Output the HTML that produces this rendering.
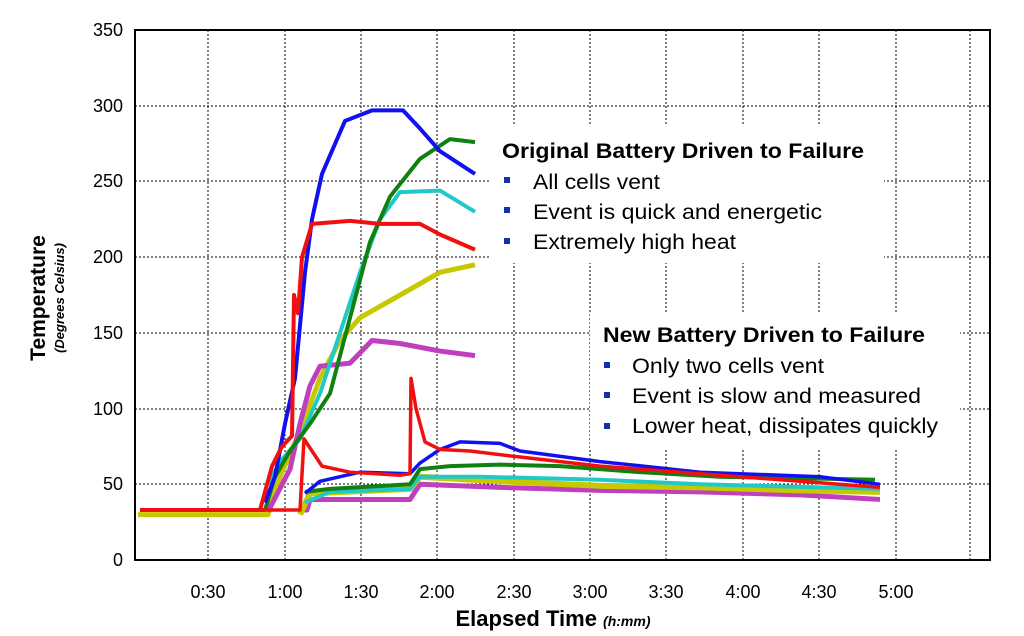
<!DOCTYPE html>
<html><head><meta charset="utf-8"><style>
html,body{margin:0;padding:0;background:#fff;}
svg{display:block;font-family:"Liberation Sans",Arial,sans-serif;}
</style></head><body>
<svg width="1024" height="636" viewBox="0 0 1024 636" xmlns="http://www.w3.org/2000/svg">
<rect width="1024" height="636" fill="#fff"/>
<g stroke="#000" stroke-width="1" stroke-dasharray="2,2">
<line x1="135" x2="990" y1="106" y2="106"/>
<line x1="135" x2="990" y1="181" y2="181"/>
<line x1="135" x2="990" y1="257" y2="257"/>
<line x1="135" x2="990" y1="333" y2="333"/>
<line x1="135" x2="990" y1="409" y2="409"/>
<line x1="135" x2="990" y1="484" y2="484"/>
<line x1="208" x2="208" y1="30" y2="560"/>
<line x1="285" x2="285" y1="30" y2="560"/>
<line x1="361" x2="361" y1="30" y2="560"/>
<line x1="437" x2="437" y1="30" y2="560"/>
<line x1="514" x2="514" y1="30" y2="560"/>
<line x1="590" x2="590" y1="30" y2="560"/>
<line x1="666" x2="666" y1="30" y2="560"/>
<line x1="743" x2="743" y1="30" y2="560"/>
<line x1="819" x2="819" y1="30" y2="560"/>
<line x1="896" x2="896" y1="30" y2="560"/>
<line x1="970" x2="970" y1="30" y2="560"/>
</g>
<rect x="490" y="125" width="394" height="138" fill="#fff"/>
<rect x="590" y="313" width="370" height="137" fill="#fff"/>
<g transform="translate(0,560) scale(1,-1.514)" fill="none" stroke-linejoin="round">
<polyline vector-effect="non-scaling-stroke" stroke="#c8c800" stroke-width="5" points="138,30 200,30 268,30 280,55 300,85 320,120 340,145 360,160 400,175 440,190 475,195"/>
<polyline vector-effect="non-scaling-stroke" stroke="#bf3fbf" stroke-width="5" points="268,32 290,60 300,90 310,115 320,128 350,130 372,145 400,143 440,138 475,135"/>
<polyline vector-effect="non-scaling-stroke" stroke="#bf3fbf" stroke-width="5" points="300,33 307,33 310,40 410,40 420,50 500,48 600,46 700,45 800,43 880,40"/>
<polyline vector-effect="non-scaling-stroke" stroke="#c8c800" stroke-width="6" points="300,30 310,44 410,47 420,55 500,52 600,49 700,48 800,46 880,45"/>
<polyline vector-effect="non-scaling-stroke" stroke="#20c8c8" stroke-width="4" points="268,50 280,65 300,80 320,110 340,150 360,190 380,225 400,243 440,244 475,230"/>
<polyline vector-effect="non-scaling-stroke" stroke="#20c8c8" stroke-width="4" points="305,38 330,45 410,47 420,55 480,55 600,53 700,50 880,47"/>
<polyline vector-effect="non-scaling-stroke" stroke="#108010" stroke-width="4" points="225,33 265,33 275,55 290,72 310,90 330,110 350,160 370,210 390,240 420,265 450,278 475,276"/>
<polyline vector-effect="non-scaling-stroke" stroke="#108010" stroke-width="4" points="305,45 330,47 410,50 420,60 450,62 500,63 560,62 640,58 720,55 875,53"/>
<polyline vector-effect="non-scaling-stroke" stroke="#1010f0" stroke-width="4" points="265,38 275,55 285,90 295,120 305,190 312,225 322,255 345,290 372,297 403,297 420,285 440,270 475,255"/>
<polyline vector-effect="non-scaling-stroke" stroke="#1010f0" stroke-width="3.5" points="305,44 320,52 340,55 360,58 410,57 420,64 440,73 460,78 500,77 520,72 600,65 700,58 820,55 880,50"/>
<polyline vector-effect="non-scaling-stroke" stroke="#f01010" stroke-width="4" points="140,33 260,33 272,62 282,75 292,82 294,175 298,163 302,200 312,222 350,224 380,222 420,222 440,215 475,205"/>
<polyline vector-effect="non-scaling-stroke" stroke="#f01010" stroke-width="3.5" points="240,33 300,33 304,80 312,72 322,62 350,58 400,56 410,57 411,120 416,100 425,78 440,73 470,72 520,68 600,62 700,57 800,52 880,48"/>
</g>
<rect x="135" y="30" width="855" height="530" fill="none" stroke="#000" stroke-width="2"/>
<g font-size="18" text-anchor="end" fill="#000">
<text x="123" y="36">350</text>
<text x="123" y="112">300</text>
<text x="123" y="187">250</text>
<text x="123" y="263">200</text>
<text x="123" y="339">150</text>
<text x="123" y="415">100</text>
<text x="123" y="490">50</text>
<text x="123" y="566">0</text>
</g>
<g font-size="18" text-anchor="middle" fill="#000">
<text x="208" y="598">0:30</text>
<text x="285" y="598">1:00</text>
<text x="361" y="598">1:30</text>
<text x="437" y="598">2:00</text>
<text x="514" y="598">2:30</text>
<text x="590" y="598">3:00</text>
<text x="666" y="598">3:30</text>
<text x="743" y="598">4:00</text>
<text x="819" y="598">4:30</text>
<text x="896" y="598">5:00</text>
</g>
<text x="553" y="626" text-anchor="middle" font-size="22" font-weight="bold">Elapsed Time <tspan font-size="14" font-style="italic">(h:mm)</tspan></text>
<text transform="translate(45,298) rotate(-90)" text-anchor="middle" font-size="21" font-weight="bold">Temperature</text>
<text transform="translate(64,298) rotate(-90)" text-anchor="middle" font-size="13" font-weight="bold" font-style="italic">(Degrees Celsius)</text>
<g fill="#000" font-size="21">
<text x="502" y="158" font-weight="bold" textLength="362" lengthAdjust="spacingAndGlyphs">Original Battery Driven to Failure</text>
<text x="533" y="189" textLength="127" lengthAdjust="spacingAndGlyphs">All cells vent</text>
<text x="533" y="219" textLength="289" lengthAdjust="spacingAndGlyphs">Event is quick and energetic</text>
<text x="533" y="249" textLength="203" lengthAdjust="spacingAndGlyphs">Extremely high heat</text>
<text x="603" y="342" font-weight="bold" textLength="322" lengthAdjust="spacingAndGlyphs">New Battery Driven to Failure</text>
<text x="632" y="373" textLength="192" lengthAdjust="spacingAndGlyphs">Only two cells vent</text>
<text x="632" y="403" textLength="289" lengthAdjust="spacingAndGlyphs">Event is slow and measured</text>
<text x="632" y="433" textLength="306" lengthAdjust="spacingAndGlyphs">Lower heat, dissipates quickly</text>
</g>
<g fill="#1030b0">
<rect x="504" y="177" width="6" height="6"/>
<rect x="504" y="207" width="6" height="6"/>
<rect x="504" y="238" width="6" height="6"/>
<rect x="604" y="362" width="6" height="6"/>
<rect x="604" y="392" width="6" height="6"/>
<rect x="604" y="423" width="6" height="6"/>
</g>
</svg>
</body></html>
